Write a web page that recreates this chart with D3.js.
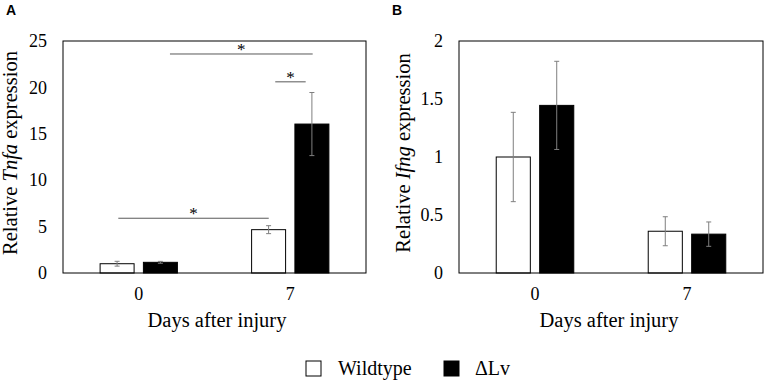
<!DOCTYPE html>
<html>
<head>
<meta charset="utf-8">
<script src="https://cdn.jsdelivr.net/npm/d3@7"></script>
<style>
  body { margin: 0; background: white; }
  svg text { font-family: "Liberation Serif", "Times New Roman", Times, serif; fill: black; }
</style>
</head>
<body>
<svg id="chart" width="765" height="385" font-family="Liberation Serif"></svg>
<script>
// data
const categories = ["0", "7"]
const series = ["Wildtype", "ΔLv"]

const tnfaWT = [1.0, 4.67]
const tnfaWTErr = [0.26, 0.43]
const tnfaLv = [1.15, 16.05]
const tnfaLvErr = [0.1, 3.4]
const tnfaTicks = [0, 5, 10, 15, 20, 25]

const ifngWT = [1.0, 0.36]
const ifngWTErr = [0.385, 0.125]
const ifngLv = [1.445, 0.335]
const ifngLvErr = [0.38, 0.105]
const ifngTicks = [0, 0.5, 1, 1.5, 2]

// significance brackets: [category, offset in band widths], y in data units
const tnfaSig = [
  {from: ["0", 0.206], to: ["7", 0.148], y: 23.6},
  {from: ["7", -0.099], to: ["7", 0.102], y: 20.6},
  {from: ["0", -0.135], to: ["7", -0.142], y: 5.9}
]

const colors = {"Wildtype": "white", "ΔLv": "black"}
const errColor = "#7f7f7f"
const serif = "'Liberation Serif', 'Times New Roman', serif"

const svg = d3.select("#chart")

function panel(opts){
  const {left, top, w, h, wt, wtErr, lv, lvErr, ticks, gene, letter, sig, titleX, titleDx} = opts
  const g = svg.append("g").attr("transform", `translate(${left},${top})`)

  const x = d3.scaleBand().domain(categories).range([0, w]).padding(0)
  const xs = d3.scaleBand().domain(series).range([0, x.bandwidth()])
      .paddingInner(0.215).paddingOuter(0.857)
  const y = d3.scaleLinear().domain([0, d3.max(ticks)]).range([h, 0])

  const rows = categories.map((c, i) => ({
    cat: c,
    vals: [
      {s: "Wildtype", v: wt[i], e: wtErr[i]},
      {s: "ΔLv", v: lv[i], e: lvErr[i]}
    ]
  }))

  // y axis labels
  const yAxis = g.append("g").call(d3.axisLeft(y).tickValues(ticks).tickSize(0).tickPadding(16)
      .tickFormat(d3.format("")))
  yAxis.attr("font-family", serif).attr("font-size", 18)
  yAxis.select(".domain").remove()
  yAxis.selectAll("text").attr("font-family", serif).attr("font-size", 18)

  // x axis labels
  const xAxis = g.append("g").attr("transform", `translate(0,${h})`)
      .call(d3.axisBottom(x).tickSize(0).tickPadding(14))
  xAxis.attr("font-family", serif).attr("font-size", 18)
  xAxis.select(".domain").remove()
  xAxis.selectAll("text").attr("font-family", serif).attr("font-size", 18)
  if (letter == "B") xAxis.selectAll("text").filter(d => d == "0").attr("fill", "#666")

  const grp = g.selectAll(".grp").data(rows).join("g")
      .attr("transform", d => `translate(${x(d.cat)},0)`)

  grp.selectAll("rect").data(d => d.vals).join("rect")
      .attr("x", d => xs(d.s))
      .attr("width", xs.bandwidth())
      .attr("y", d => y(d.v))
      .attr("height", d => h - y(d.v))
      .attr("fill", d => colors[d.s])
      .attr("stroke", "black")
      .attr("stroke-width", 1)

  const eb = grp.selectAll(".err").data(d => d.vals).join("g").attr("class", "err")
      .attr("transform", d => `translate(${xs(d.s) + xs.bandwidth()/2},0)`)
  eb.append("line").attr("y1", d => y(d.v + d.e)).attr("y2", d => y(d.v - d.e))
      .attr("stroke", errColor)
  eb.append("line").attr("x1", -2.5).attr("x2", 2.5).attr("y1", d => y(d.v + d.e)).attr("y2", d => y(d.v + d.e))
      .attr("stroke", errColor)
  eb.append("line").attr("x1", -2.5).attr("x2", 2.5).attr("y1", d => y(d.v - d.e)).attr("y2", d => y(d.v - d.e))
      .attr("stroke", errColor)

  // frame
  g.append("rect").attr("width", w).attr("height", h)
      .attr("fill", "none").attr("stroke", "black").attr("stroke-width", 1)

  // significance
  const bw = x.bandwidth()
  const px = p => x(p[0]) + bw/2 + p[1]*bw
  sig.forEach(s => {
    g.append("line").attr("x1", px(s.from)).attr("x2", px(s.to))
        .attr("y1", y(s.y)).attr("y2", y(s.y)).attr("stroke", "#595959")
    g.append("text").attr("x", (px(s.from) + px(s.to))/2).attr("y", y(s.y) + 1)
        .attr("text-anchor", "middle").attr("font-family", serif).attr("font-size", 17).text("*")
  })

  // axis titles
  const yt = g.append("text").attr("transform", `translate(${titleX},${h/2 - 4}) rotate(-90)`)
      .attr("text-anchor", "middle").attr("font-family", serif).attr("font-size", 20.5)
  yt.append("tspan").text("Relative ")
  yt.append("tspan").attr("font-style", "italic").text(gene)
  yt.append("tspan").text(" expression")

  g.append("text").attr("x", w/2 + titleDx).attr("y", h + 54).attr("text-anchor", "middle")
      .attr("font-family", serif).attr("font-size", 20.5).text("Days after injury")

  svg.append("text").attr("x", left - (letter == "A" ? 57 : 67)).attr("y", 15)
      .attr("font-family", "'Liberation Sans', Arial, sans-serif").attr("font-weight", "bold")
      .style("font-family", "'Liberation Sans', Arial, sans-serif")
      .attr("font-size", 14).text(letter)
}

panel({left: 63, top: 41, w: 303, h: 232, wt: tnfaWT, wtErr: tnfaWTErr, lv: tnfaLv, lvErr: tnfaLvErr,
  ticks: tnfaTicks, gene: "Tnfa", letter: "A", sig: tnfaSig, titleX: -46, titleDx: 2.5})
panel({left: 459, top: 41, w: 304, h: 232, wt: ifngWT, wtErr: ifngWTErr, lv: ifngLv, lvErr: ifngLvErr,
  ticks: ifngTicks, gene: "Ifng", letter: "B", sig: [], titleX: -49, titleDx: -2})

// legend
const legend = svg.append("g").attr("transform", "translate(306,361)")
const li = legend.selectAll("g").data(series).join("g")
    .attr("transform", (d, i) => `translate(${i*138},0)`)
li.append("rect").attr("width", 15).attr("height", 15)
    .attr("fill", d => colors[d]).attr("stroke", "black")
li.append("text").attr("x", d => d == "Wildtype" ? 32 : 31).attr("y", 14)
    .attr("font-family", serif).attr("font-size", 20).text(d => d)
</script>
</body>
</html>
